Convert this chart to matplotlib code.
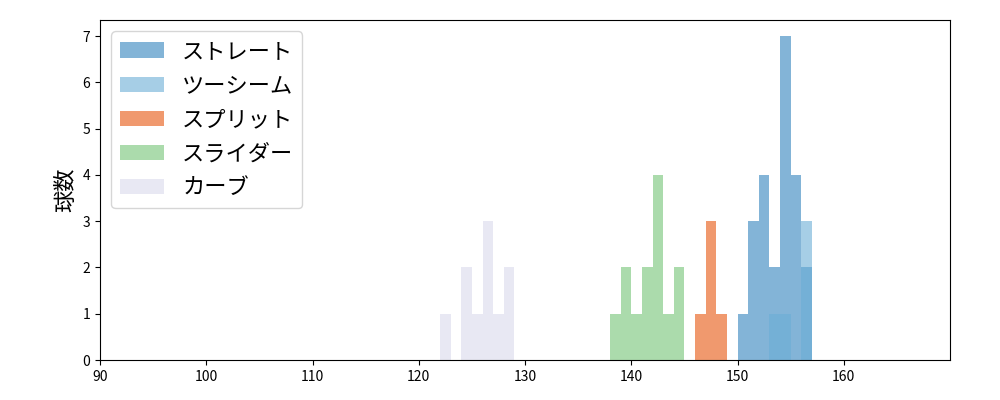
import numpy as np
import matplotlib
matplotlib.use("Agg")
import matplotlib.pyplot as plt

plt.rcParams['font.family'] = ['Noto Sans CJK JP', 'DejaVu Sans']

labels = ["ストレート", "ツーシーム", "スプリット", "スライダー", "カーブ"]
colors = ["#3182bd", "#6baed6", "#e6550d", "#74c476", "#dadaeb"]

# speed bin starts and counts (1 km/h bins)
straight_bins = [150, 151, 152, 153, 154, 155, 156]
straight_counts = [1, 3, 4, 2, 7, 4, 2]
twoseam_bins = [153, 154, 155, 156]
twoseam_counts = [1, 1, 0, 3]
split_bins = [146, 147, 148]
split_counts = [1, 3, 1]
slider_bins = [138, 139, 140, 141, 142, 143, 144]
slider_counts = [1, 2, 1, 2, 4, 1, 2]
curve_bins = [122, 123, 124, 125, 126, 127, 128]
curve_counts = [1, 0, 2, 1, 3, 1, 2]

series = [(straight_bins, straight_counts), (twoseam_bins, twoseam_counts),
          (split_bins, split_counts), (slider_bins, slider_counts),
          (curve_bins, curve_counts)]

fig, ax = plt.subplots(figsize=(10, 4), dpi=100)
for (b, c), lab, col in zip(series, labels, colors):
    edges = list(b) + [b[-1] + 1]
    ax.hist(np.array(b) + 0.5, bins=edges, weights=c, color=col, alpha=0.6, label=lab)

ax.set_xlim(90, 170)
ax.set_xticks(range(90, 170, 10))
ax.set_yticks(range(0, 8))
ax.set_ylabel("球数", fontsize=16)
ax.legend(fontsize=16, loc="upper left")
plt.subplots_adjust(left=0.1, right=0.95, top=0.95, bottom=0.1)
fig.savefig("out.png")
